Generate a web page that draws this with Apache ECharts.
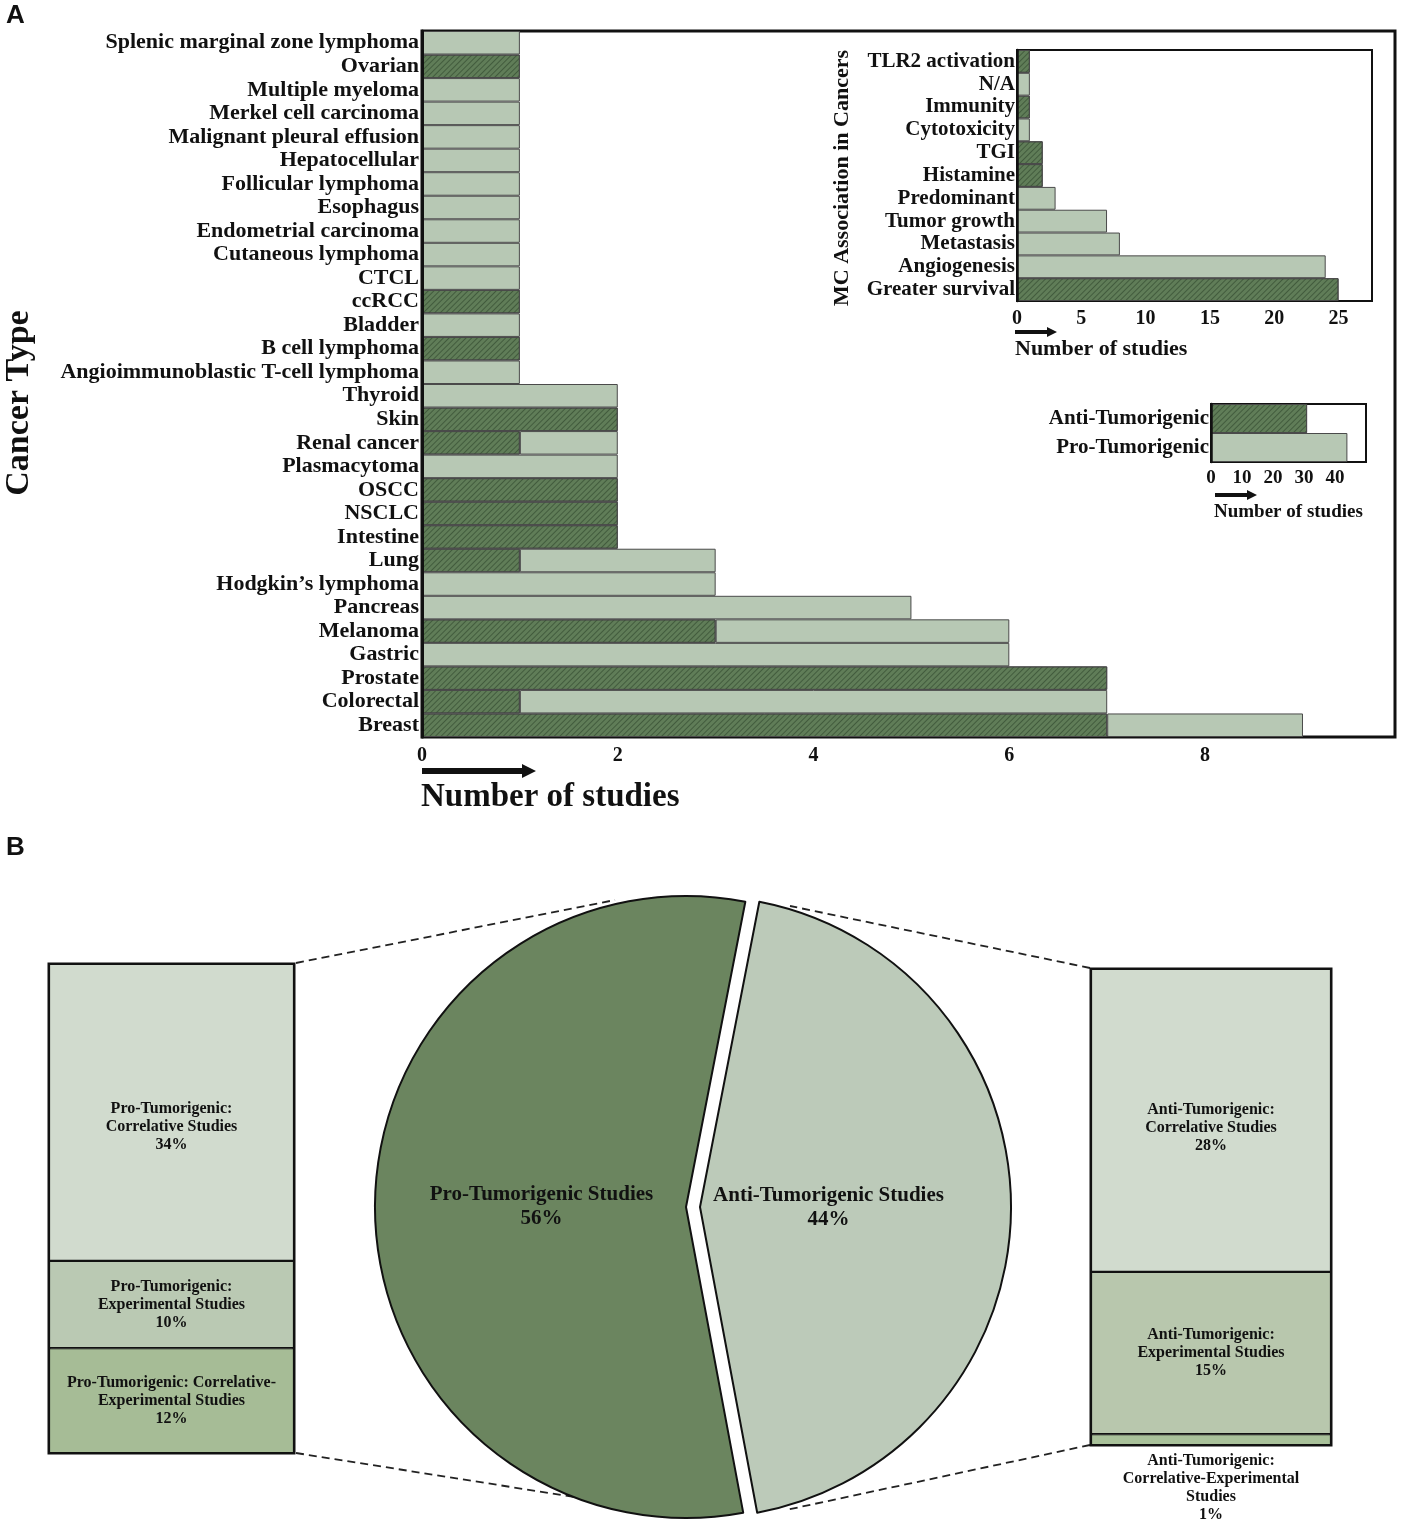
<!DOCTYPE html>
<html>
<head>
<meta charset="utf-8">
<script src="https://cdn.jsdelivr.net/npm/echarts@6/dist/echarts.min.js"></script>
<style>
html, body { margin: 0; padding: 0; background: #fff; }
#main { width: 1401px; height: 1530px; }
</style>
</head>
<body>
<div id="main"></div>
<script>
// panel A: cancer types, top to bottom
var cancerTypes = ['Splenic marginal zone lymphoma', 'Ovarian', 'Multiple myeloma', 'Merkel cell carcinoma',
    'Malignant pleural effusion', 'Hepatocellular', 'Follicular lymphoma', 'Esophagus', 'Endometrial carcinoma',
    'Cutaneous lymphoma', 'CTCL', 'ccRCC', 'Bladder', 'B cell lymphoma', 'Angioimmunoblastic T-cell lymphoma',
    'Thyroid', 'Skin', 'Renal cancer', 'Plasmacytoma', 'OSCC', 'NSCLC', 'Intestine', 'Lung',
    'Hodgkin\u2019s lymphoma', 'Pancreas', 'Melanoma', 'Gastric', 'Prostate', 'Colorectal', 'Breast'];
var cancerAnti = [0, 1, 0, 0, 0, 0, 0, 0, 0, 0, 0, 1, 0, 1, 0, 0, 2, 1, 0, 2, 2, 2, 1, 0, 0, 3, 0, 7, 1, 7];
var cancerPro  = [1, 0, 1, 1, 1, 1, 1, 1, 1, 1, 1, 0, 1, 0, 1, 2, 0, 1, 2, 0, 0, 0, 2, 3, 5, 3, 6, 0, 6, 2];

// inset: MC association, top to bottom
var mcRoles = ['TLR2 activation', 'N/A', 'Immunity', 'Cytotoxicity', 'TGI', 'Histamine', 'Predominant',
    'Tumor growth', 'Metastasis', 'Angiogenesis', 'Greater survival'];
var mcAnti = [1, 0, 1, 0, 2, 2, 0, 0, 0, 0, 25];
var mcPro  = [0, 1, 0, 1, 0, 0, 3, 7, 8, 24, 0];

// inset: totals
var totalRoles = ['Anti-Tumorigenic', 'Pro-Tumorigenic'];
var totalAnti = [31, 0];
var totalPro  = [0, 44];

// panel B
var pieNames = ['Anti-Tumorigenic Studies', 'Pro-Tumorigenic Studies'];
var pieValues = [44, 56];
var proParts = ['Pro-Tumorigenic:\nCorrelative Studies', 'Pro-Tumorigenic:\nExperimental Studies',
    'Pro-Tumorigenic: Correlative-\nExperimental Studies'];
var proShares = [34, 10, 12];
var antiParts = ['Anti-Tumorigenic:\nCorrelative Studies', 'Anti-Tumorigenic:\nExperimental Studies',
    'Anti-Tumorigenic:\nCorrelative-Experimental\nStudies'];
var antiShares = [28, 15, 1];

var SERIF = 'Liberation Serif';
var DARK = '#607d58';
var LIGHT = '#b7c8b4';
var INK = '#111';
var proColors = ['#d1dbce', '#bac9b3', '#a6bc96'];
var antiColors = ['#d1dbce', '#b8c7ad', '#a9c19a'];

var hatch = {
    symbol: 'rect', symbolSize: 1,
    dashArrayX: [1, 0], dashArrayY: [1, 3],
    rotation: -Math.PI / 4,
    color: 'rgba(20,40,20,0.4)'
};

function boldText(size) {
    return { fontFamily: SERIF, fontWeight: 'bold', fontSize: size, color: INK };
}

function hbar(name, values, color, idx, hatched) {
    var style = { color: color, borderColor: '#4a4a4a', borderWidth: 1 };
    if (hatched) style.decal = hatch;
    return {
        type: 'bar', name: name, stack: 'st' + idx, xAxisIndex: idx, yAxisIndex: idx,
        barWidth: '100%', silent: true,
        data: values.map(function (v) { return v ? v : '-'; }),
        itemStyle: style
    };
}

// bar borders sit inside each rect, so neighbours add up to one divider
function boxSeries(names, shares, colors, idx, topOffset) {
    var out = [];
    for (var i = names.length - 1; i >= 0; i--) {
        var lab = Object.assign({ show: true, position: 'inside', formatter: '{a}\n{c}%', lineHeight: 18 }, boldText(16));
        if (i === 0) lab.offset = [0, topOffset];
        if (shares[i] < 3) { lab.position = 'bottom'; lab.distance = 7; }
        out.push({
            type: 'bar', name: names[i], stack: 'box' + idx, xAxisIndex: idx, yAxisIndex: idx,
            barWidth: '100%', silent: true, data: [shares[i]],
            itemStyle: { color: colors[i], borderColor: INK, borderWidth: 1.1 },
            label: lab
        });
    }
    return out;
}

function arrow(x0, x1, y, t, hw, hl) {
    return {
        type: 'polygon',
        shape: { points: [[x0, y - t / 2], [x1 - hl, y - t / 2], [x1 - hl, y - hw], [x1, y],
            [x1 - hl, y + hw], [x1 - hl, y + t / 2], [x0, y + t / 2]] },
        style: { fill: INK }
    };
}

function dashed(x1, y1, x2, y2) {
    return {
        type: 'line', z: -1,
        shape: { x1: x1, y1: y1, x2: x2, y2: y2 },
        style: { stroke: '#222', lineWidth: 1.8, lineDash: [8, 5] }
    };
}

function text(x, y, str, size, extra) {
    var el = {
        type: 'text', x: x, y: y,
        style: { text: str, font: 'bold ' + size + 'px "' + SERIF + '"', fill: INK, verticalAlign: 'middle' }
    };
    return Object.assign(el, extra || {});
}

var chart = echarts.init(document.getElementById('main'));

var option = {
    animation: false,
    backgroundColor: '#fff',
    grid: [
        { left: 422, top: 31, width: 973, height: 706, show: true, borderColor: INK, borderWidth: 3, backgroundColor: 'transparent' },
        { left: 1017, top: 50, width: 355, height: 251, show: true, borderColor: INK, borderWidth: 2, backgroundColor: 'transparent' },
        { left: 1211, top: 404, width: 155, height: 58, show: true, borderColor: INK, borderWidth: 2, backgroundColor: 'transparent' },
        { left: 49, top: 964, width: 245, height: 489, show: true, borderColor: INK, borderWidth: 3, backgroundColor: 'transparent' },
        { left: 1091, top: 969, width: 240, height: 476, show: true, borderColor: INK, borderWidth: 3, backgroundColor: 'transparent' }
    ],
    xAxis: [
        { gridIndex: 0, type: 'value', min: 0, max: 9.94, interval: 2,
          axisLine: { show: false }, axisTick: { show: false }, splitLine: { show: false },
          axisLabel: Object.assign({ margin: 9, showMaxLabel: false, formatter: function (v) { return v % 2 === 0 ? v : ''; } }, boldText(20)) },
        { gridIndex: 1, type: 'value', min: 0, max: 27.6, interval: 5,
          axisLine: { show: false }, axisTick: { show: false }, splitLine: { show: false },
          axisLabel: Object.assign({ margin: 8, showMaxLabel: false, formatter: function (v) { return v % 5 === 0 ? v : ''; } }, boldText(20)) },
        { gridIndex: 2, type: 'value', min: 0, max: 50, interval: 10,
          axisLine: { show: false }, axisTick: { show: false }, splitLine: { show: false },
          axisLabel: Object.assign({ margin: 7, showMaxLabel: false }, boldText(19)) },
        { gridIndex: 3, type: 'category', data: ['pro'], show: false },
        { gridIndex: 4, type: 'category', data: ['anti'], show: false }
    ],
    yAxis: [
        { gridIndex: 0, type: 'category', data: cancerTypes, inverse: true, z: 5,
          axisLine: { lineStyle: { color: INK, width: 3 } }, axisTick: { show: false },
          axisLabel: Object.assign({ margin: 3, interval: 0 }, boldText(22)) },
        { gridIndex: 1, type: 'category', data: mcRoles, inverse: true, z: 5,
          axisLine: { lineStyle: { color: INK, width: 2.5 } }, axisTick: { show: false },
          axisLabel: Object.assign({ margin: 2, interval: 0 }, boldText(21)) },
        { gridIndex: 2, type: 'category', data: totalRoles, inverse: true, z: 5,
          axisLine: { lineStyle: { color: INK, width: 2.5 } }, axisTick: { show: false },
          axisLabel: Object.assign({ margin: 2, interval: 0 }, boldText(21)) },
        { gridIndex: 3, type: 'value', min: 0, max: 56, show: false },
        { gridIndex: 4, type: 'value', min: 0, max: 44, show: false }
    ],
    series: [
        hbar('Anti-Tumorigenic', cancerAnti, DARK, 0, true),
        hbar('Pro-Tumorigenic', cancerPro, LIGHT, 0, false),
        hbar('Anti-Tumorigenic', mcAnti, DARK, 1, true),
        hbar('Pro-Tumorigenic', mcPro, LIGHT, 1, false),
        hbar('Anti-Tumorigenic', totalAnti, DARK, 2, true),
        hbar('Pro-Tumorigenic', totalPro, LIGHT, 2, false),
        {
            type: 'pie', center: [693, 1207], radius: 311, startAngle: 79, clockwise: true,
            selectedMode: 'multiple', selectedOffset: 7, silent: true,
            itemStyle: { borderColor: INK, borderWidth: 2 },
            label: Object.assign({ show: true, position: 'inside', formatter: '{b}\n{c}%', lineHeight: 24 }, boldText(21)),
            labelLine: { show: false },
            labelLayout: function (p) { return p.dataIndex === 0 ? { dx: -30, dy: 0 } : { dx: 14, dy: 0 }; },
            emphasis: { disabled: true },
            data: pieNames.map(function (n, i) {
                return { name: n, value: pieValues[i], selected: true,
                         itemStyle: { color: i === 0 ? '#bccab9' : '#6b855f' } };
            })
        }
    ].concat(boxSeries(proParts, proShares, proColors, 3, 14))
     .concat(boxSeries(antiParts, antiShares, antiColors, 4, 7)),
    graphic: [
        { type: 'text', left: 6, top: 3, style: { text: 'A', font: 'bold 26px "Liberation Sans"', fill: INK } },
        { type: 'text', left: 6, top: 835, style: { text: 'B', font: 'bold 26px "Liberation Sans"', fill: INK } },
        text(19, 403, 'Cancer Type', 34, { rotation: Math.PI / 2, style: { text: 'Cancer Type', font: 'bold 34px "' + SERIF + '"', fill: INK, align: 'center', verticalAlign: 'middle' } }),
        text(842, 178, 'MC Association in Cancers', 22, { rotation: Math.PI / 2, style: { text: 'MC Association in Cancers', font: 'bold 22px "' + SERIF + '"', fill: INK, align: 'center', verticalAlign: 'middle' } }),
        text(421, 797, 'Number of studies', 33),
        text(1015, 349, 'Number of studies', 22),
        text(1214, 512, 'Number of studies', 19),
        arrow(422, 536, 771, 6, 7, 14),
        arrow(1015, 1057, 332, 4, 5, 10),
        arrow(1215, 1257, 495, 4, 5, 10),
        dashed(296, 963, 615, 900),
        dashed(296, 1453, 612, 1503),
        dashed(1090, 968, 790, 906),
        dashed(1090, 1445, 786, 1510)
    ]
};

chart.setOption(option);
</script>
</body>
</html>
